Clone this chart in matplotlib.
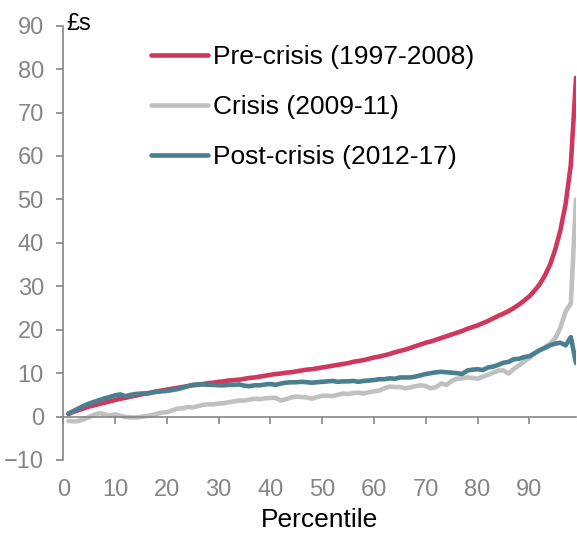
import numpy as np
import matplotlib
matplotlib.use('Agg')
import matplotlib.pyplot as plt

plt.rcParams['font.family'] = ['Liberation Sans', 'DejaVu Sans']

percentile = list(range(1, 100))

pre_crisis = [0.6, 1.1, 1.5, 1.9, 2.3, 2.6, 2.9, 3.2, 3.5, 3.8,
              4.1, 4.3, 4.6, 4.8, 5.1, 5.3, 5.5, 5.8, 6.0, 6.2,
              6.4, 6.6, 6.8, 7.0, 7.2, 7.3, 7.5, 7.7, 7.8, 8.0,
              8.1, 8.3, 8.4, 8.5, 8.7, 8.9, 9.0, 9.2, 9.4, 9.6,
              9.8, 9.9, 10.1, 10.2, 10.4, 10.6, 10.8, 10.9, 11.1, 11.3,
              11.5, 11.7, 11.9, 12.1, 12.3, 12.6, 12.8, 13.0, 13.3, 13.6,
              13.8, 14.1, 14.4, 14.8, 15.1, 15.4, 15.8, 16.2, 16.6, 17.0,
              17.3, 17.7, 18.1, 18.5, 18.9, 19.3, 19.7, 20.2, 20.6, 21.0,
              21.5, 22.0, 22.6, 23.2, 23.7, 24.3, 25.0, 25.8, 26.7, 27.7,
              29.0, 30.5, 32.5, 35.0, 38.5, 43.0, 49.0, 58.0, 78.0]

crisis = [-1.0, -1.1, -1.0, -0.6, -0.1, 0.4, 0.8, 0.5, 0.2, 0.5,
          0.2, -0.1, -0.2, -0.2, -0.1, 0.1, 0.3, 0.6, 0.9, 1.0,
          1.4, 1.8, 1.9, 2.2, 2.1, 2.4, 2.7, 2.8, 2.8, 3.0,
          3.1, 3.3, 3.5, 3.7, 3.7, 3.9, 4.1, 4.0, 4.2, 4.3,
          4.3, 3.7, 4.0, 4.4, 4.6, 4.5, 4.4, 4.1, 4.5, 4.8,
          4.8, 4.7, 5.0, 5.3, 5.2, 5.4, 5.5, 5.3, 5.6, 5.8,
          6.0, 6.5, 6.9, 6.8, 6.8, 6.5, 6.7, 7.0, 7.2, 7.0,
          6.5, 6.8, 7.6, 7.3, 8.2, 8.7, 8.8, 9.0, 8.9, 8.7,
          9.2, 9.6, 10.1, 10.6, 10.6, 9.9, 11.0, 11.8, 12.7, 13.5,
          14.5, 15.3, 16.0, 16.8, 18.0, 20.5, 24.2, 26.0, 50.0]

post_crisis = [0.7, 1.3, 1.9, 2.5, 3.0, 3.4, 3.8, 4.2, 4.5, 4.9,
               5.1, 4.7, 5.0, 5.2, 5.3, 5.3, 5.5, 5.7, 5.8, 5.9,
               6.1, 6.3, 6.6, 7.0, 7.3, 7.4, 7.4, 7.3, 7.3, 7.2,
               7.2, 7.3, 7.3, 7.4, 7.1, 7.0, 7.2, 7.2, 7.4, 7.5,
               7.3, 7.6, 7.8, 7.9, 7.9, 8.0, 7.9, 7.8, 7.9, 8.0,
               8.1, 8.2, 8.0, 8.1, 8.1, 8.2, 8.0, 8.2, 8.3, 8.4,
               8.6, 8.6, 8.8, 8.7, 9.0, 9.0, 9.0, 9.2, 9.5, 9.8,
               10.0, 10.2, 10.3, 10.2, 10.1, 10.0, 9.8, 10.6, 10.8, 10.9,
               10.7, 11.3, 11.5, 11.9, 12.4, 12.6, 13.2, 13.3, 13.7, 13.9,
               14.6, 15.3, 15.8, 16.4, 16.8, 17.0, 16.4, 18.3, 12.3]

labels = ['Pre-crisis (1997-2008)', 'Crisis (2009-11)', 'Post-crisis (2012-17)']
colours = ['#D1375C', '#C0C0C0', '#4A7F8F']
yticks = list(range(-10, 100, 10))
xticks = list(range(0, 100, 10))

fig = plt.figure(figsize=(5.77, 5.33), dpi=100)
ax = fig.add_axes([0.1097, 0.137, 0.8886, 0.8148])

grey = '#858585'
ax.plot(percentile, crisis, color=colours[1], lw=3.3, label=labels[1], solid_capstyle='round', zorder=2)
ax.plot(percentile, post_crisis, color=colours[2], lw=3.3, label=labels[2], solid_capstyle='round', zorder=3)
ax.plot(percentile, pre_crisis, color=colours[0], lw=3.3, label=labels[0], solid_capstyle='round', zorder=1)

ax.set_xlim(0, 99)
ax.set_ylim(-10, 90)

for s in ['top', 'right']:
    ax.spines[s].set_visible(False)
ax.spines['bottom'].set_position(('data', 0))
ax.spines['bottom'].set_color(grey)
ax.spines['left'].set_color(grey)
ax.spines['bottom'].set_linewidth(1.2)
ax.spines['left'].set_linewidth(1.2)

ax.set_yticks(yticks)
ax.set_xticks(xticks)
ax.tick_params(axis='y', colors=grey, labelsize=17, length=5, width=1.2, pad=9)
ax.tick_params(axis='x', colors=grey, labelsize=17, length=5, width=1.2, pad=40)

ax.set_xlabel('Percentile', fontsize=19, color='black', labelpad=5)
ax.text(0.6, 90.5, '£s', fontsize=17, color='black', va='center', ha='left')

handles, labs = ax.get_legend_handles_labels()
order = [2, 0, 1]
leg = ax.legend([handles[i] for i in order], [labs[i] for i in order],
                loc='upper left', bbox_to_anchor=(0.125, 1.01), frameon=False,
                fontsize=19, handlelength=2.15, handletextpad=0.2, labelspacing=0.98)

fig.savefig('out.png', dpi=100)
